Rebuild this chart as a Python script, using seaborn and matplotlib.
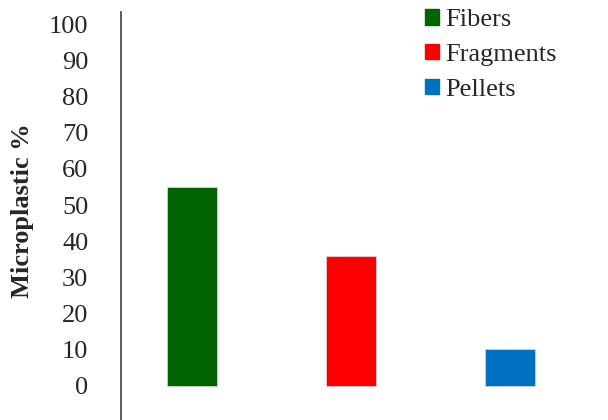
import matplotlib
matplotlib.use("Agg")
import matplotlib.pyplot as plt
import matplotlib.patches as mpatches
import seaborn as sns
import pandas as pd

categories = ['Fibers', 'Fragments', 'Pellets']
percent = [55, 36, 10]
colors = ['#006400', '#FF0000', '#0070C0']
yticks = [0, 10, 20, 30, 40, 50, 60, 70, 80, 90, 100]

df = pd.DataFrame({'type': categories, 'pct': percent})

sns.set_style('white')
plt.rcParams['font.family'] = ['Liberation Serif', 'DejaVu Serif']

fig = plt.figure(figsize=(6.08, 4.2), dpi=100)
ax = fig.add_axes([121 / 608, 0, 479 / 608, 408 / 420])

sns.barplot(data=df, x='type', y='pct', hue='type', palette=colors, saturation=1,
            width=0.315, edgecolor='#dddddd', linewidth=0.5, legend=False, ax=ax)

ax.set_xlim(-0.447, 2.563)
ax.set_ylim(-9.55, 103.5)
ax.set_yticks(yticks)
ax.set_yticklabels([str(t) for t in yticks], fontsize=19)
ax.tick_params(axis='y', length=0, pad=23.5)
ax.set_xticks([])
ax.set_xlabel('')
ax.set_ylabel('Microplastic %', fontsize=19, fontweight='bold', labelpad=0)
ax.yaxis.set_label_coords(-0.182, 0.512)

for s in ['top', 'right', 'bottom']:
    ax.spines[s].set_visible(False)
ax.spines['left'].set_color('#404040')
ax.spines['left'].set_linewidth(1.2)

handles = [mpatches.Patch(color=c, label=l) for c, l in zip(colors, categories)]
fig.legend(handles=handles, loc='upper left', bbox_to_anchor=(425 / 608, 1 - 9 / 420),
           frameon=False, fontsize=19, borderpad=0, borderaxespad=0,
           handlelength=0.53, handleheight=0.53, handletextpad=0.24, labelspacing=0.48)

fig.savefig('out.png', dpi=100)
